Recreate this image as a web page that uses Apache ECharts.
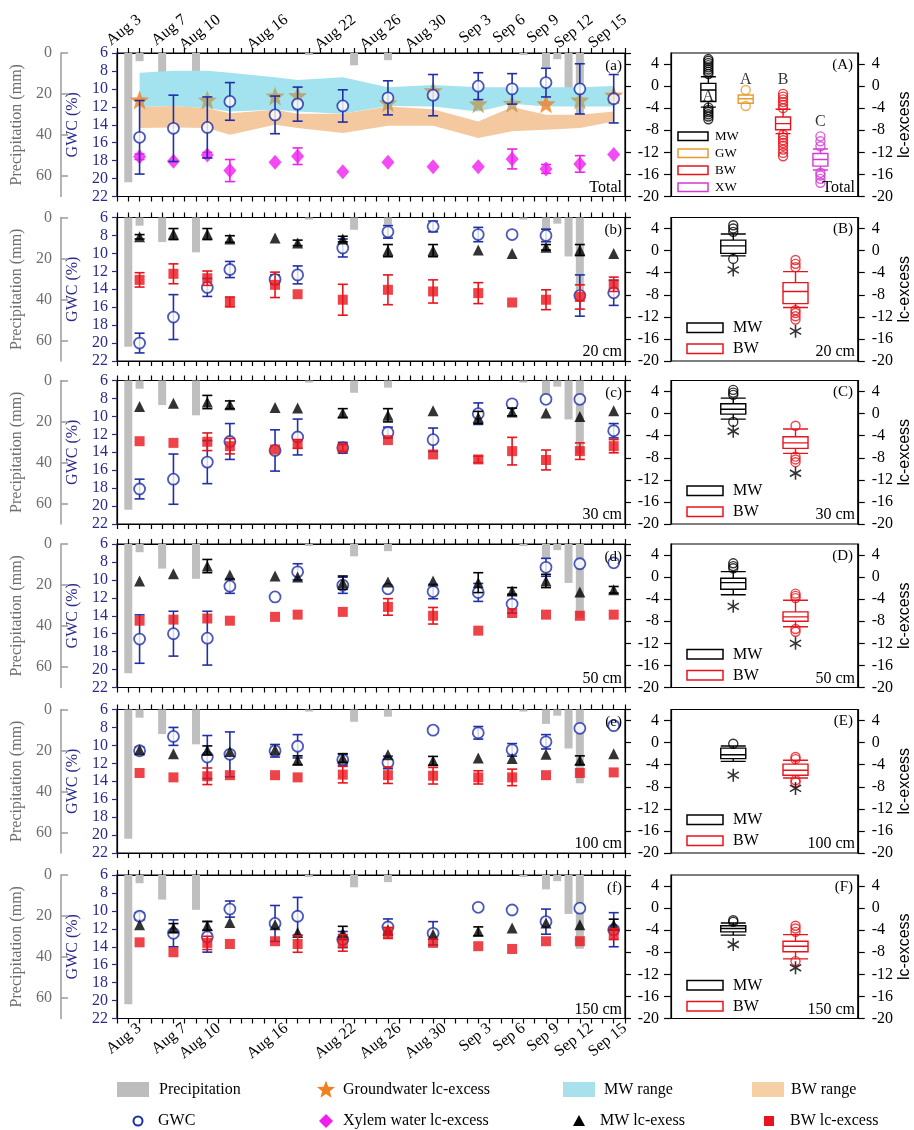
<!DOCTYPE html>
<html>
<head>
<meta charset="utf-8">
<script src="https://cdn.jsdelivr.net/npm/echarts@6/dist/echarts.min.js"></script>
<style>html,body{margin:0;padding:0;background:#fff}#chart{width:914px;height:1130px}</style>
</head>
<body>
<div id="chart"></div>
<script>
// sampling days (Aug 1 = day 1) and axis labels
var DAYS = [3, 6, 9, 11, 15, 17, 21, 25, 29, 33, 36, 39, 42, 45];
var DATE_TICKS = [3, 7, 10, 16, 22, 26, 30, 34, 37, 40, 43, 46];
var DATE_LABELS = ['Aug 3', 'Aug 7', 'Aug 10', 'Aug 16', 'Aug 22', 'Aug 26', 'Aug 30', 'Sep 3', 'Sep 6', 'Sep 9', 'Sep 12', 'Sep 15'];
var RAIN_DAYS = [2, 3, 5, 8, 18, 22, 25, 37, 39, 40, 41, 42];
var RAIN_MM = [63, 4, 12, 17, 1, 6, 3.5, 1, 7, 3, 19, 36];

// Total panel
var GWC_TOTAL = [15.4, 14.4, 14.3, 11.4, 12.9, 11.7, 11.9, 11.0, 10.7, 9.7, 10.0, 9.3, 10.0, 11.1];
var GWC_TOTAL_ERR = [4.1, 3.7, 3.4, 2.1, 2.1, 1.9, 1.8, 1.9, 2.3, 1.5, 1.7, 1.6, 2.8, 2.7];
var GW_LC = [-2.5, null, -2.5, null, -1.8, -1.7, null, -3.0, -0.8, -3.2, -3.1, -3.2, -2.5, -1.6];
var XW_LC = [-12.8, -13.6, -12.5, -15.3, -13.8, -12.7, -15.5, -13.8, -14.6, -14.6, -13.2, -15.0, -14.1, -12.4];
var XW_LC_ERR = [0.5, 0, 0.5, 2.0, 0, 1.5, 0, 0, 0, 0, 1.8, 0.8, 1.5, 0];
var MW_RANGE_HI = [2.4, 2.8, 2.8, 2.4, 1.6, 1.1, 1.6, -0.2, 0.2, -0.2, -0.2, -0.2, -0.2, 0.0];
var MW_RANGE_LO = [-3.8, -3.6, -4.0, -4.6, -4.3, -4.6, -5.0, -3.6, -3.7, -4.6, -3.2, -3.7, -3.7, -3.7];
var BW_RANGE_HI = [-3.8, -3.6, -4.0, -4.9, -4.3, -5.0, -5.0, -3.7, -4.2, -6.4, -3.8, -5.2, -5.2, -4.6];
var BW_RANGE_LO = [-7.6, -7.5, -7.6, -8.8, -7.0, -7.6, -8.5, -7.2, -7.2, -9.4, -8.2, -7.9, -7.6, -6.4];

// 20 cm
var GWC_20 = [20.0, 17.1, 13.8, 11.8, 12.9, 12.4, 9.4, 7.6, 7.0, 7.9, 7.9, 8.0, 14.7, 14.4];
var GWC_20_ERR = [1.1, 2.5, 1.0, 0.9, 0.5, 1.0, 1.0, 0.7, 0.6, 0.8, 0, 0.7, 2.3, 1.4];
var MW_20 = [2.5, 3.0, 3.0, 2.1, 2.3, 1.4, 2.1, 0.0, 0.0, 0.1, -0.5, 0.6, 0.1, -0.5];
var MW_20_ERR = [0.4, 1.0, 1.0, 0.6, 0, 0.5, 0.5, 1.1, 1.1, 0, 0, 0.5, 1.0, 0];
var BW_20 = [-5.3, -4.2, -5.0, -9.3, -6.2, -7.9, -8.9, -7.1, -7.4, -7.7, -9.4, -8.9, -8.4, -6.1];
var BW_20_ERR = [1.3, 1.8, 1.3, 0.9, 2.3, 0, 2.8, 2.7, 2.1, 1.9, 0, 1.8, 2.2, 1.3];

// 30 cm
var GWC_30 = [18.1, 17.0, 15.1, 12.8, 13.8, 12.3, 13.5, 11.8, 12.6, 9.7, 8.6, 8.1, 8.1, 11.6];
var GWC_30_ERR = [1.1, 2.8, 2.4, 2.0, 2.3, 2.0, 0.6, 0.6, 1.3, 1.2, 0, 0, 0, 0.8];
var MW_30 = [1.3, 1.9, 2.1, 1.6, 1.1, 1.0, 0.1, -0.3, 0.5, -0.7, 0.3, 0.1, -0.5, 0.5];
var MW_30_ERR = [0, 0, 1.2, 0.7, 0, 0, 0.8, 1.2, 0, 1.1, 0.7, 0, 0, 0];
var BW_30 = [-5.0, -5.3, -5.1, -5.9, -6.5, -5.5, -6.2, -4.8, -7.4, -8.3, -6.8, -8.4, -6.8, -5.9];
var BW_30_ERR = [0, 0, 1.6, 1.4, 0, 0.8, 0.6, 0, 0, 0.6, 2.5, 1.8, 1.5, 1.2];

// 50 cm
var GWC_50 = [16.6, 16.0, 16.5, 10.7, 11.9, 9.1, 10.6, 11.0, 11.3, 11.4, 12.7, 8.6, 8.2, 8.1];
var GWC_50_ERR = [2.7, 2.5, 3.0, 0.8, 0, 0.9, 0.9, 0, 0.8, 1.0, 1.0, 1.0, 0, 0];
var MW_50 = [-0.7, 0.6, 2.0, 0.4, 0.2, 0.0, -1.0, -0.9, -0.7, -1.0, -2.5, -0.7, -2.7, -2.3];
var MW_50_ERR = [0, 0, 1.2, 0, 0, 0, 1.2, 0, 0, 1.8, 0.6, 1.2, 0, 0.6];
var BW_50 = [-7.9, -7.7, -7.5, -7.9, -7.2, -6.8, -6.3, -5.4, -7.0, -9.7, -6.5, -6.8, -7.0, -6.8];
var BW_50_ERR = [0, 0, 0, 0, 0, 0, 0, 1.5, 1.5, 0, 0, 0, 0, 0];

// 100 cm
var GWC_100 = [10.6, 9.0, 11.3, 11.0, 10.6, 10.1, 11.6, 11.9, 8.3, 8.6, 10.5, 9.6, 8.1, 7.8];
var GWC_100_ERR = [0.4, 1.0, 2.4, 2.5, 0.7, 1.3, 0.6, 0.7, 0, 0.7, 0.7, 0.8, 0, 0];
var MW_100 = [-1.3, -2.0, -1.4, -1.6, -1.3, -3.2, -2.8, -2.2, -3.3, -2.8, -2.9, -2.1, -3.2, -2.0];
var MW_100_ERR = [0, 0, 0.8, 0, 0, 0.8, 0.8, 0, 0.8, 0, 0, 0, 0.8, 0];
var BW_100 = [-5.5, -6.3, -6.1, -5.9, -5.9, -6.3, -5.8, -5.9, -6.0, -6.3, -6.3, -5.9, -5.5, -5.4];
var BW_100_ERR = [0, 0, 1.5, 0, 0, 0, 1.5, 1.5, 1.5, 1.2, 1.5, 0, 0, 0];

// 150 cm
var GWC_150 = [10.6, 12.5, 12.9, 9.8, 11.4, 10.6, 13.2, 11.8, 12.5, 9.6, 9.9, 11.2, 9.7, 12.1];
var GWC_150_ERR = [0.4, 1.5, 1.7, 0.9, 2.0, 2.1, 0.9, 0.9, 1.3, 0, 0, 1.4, 0, 1.9];
var MW_150 = [-3.0, -3.6, -3.2, -2.6, -3.0, -4.4, -4.5, -3.9, -4.8, -4.2, -3.6, -2.7, -3.0, -3.0];
var MW_150_ERR = [0, 0.8, 0.8, 0, 0, 0, 1.2, 0, 0, 0.8, 0, 0, 0, 1.0];
var BW_150 = [-6.2, -8.0, -6.3, -6.5, -6.0, -6.5, -6.3, -4.5, -6.3, -6.9, -7.4, -6.0, -6.0, -4.7];
var BW_150_ERR = [0, 0, 1.2, 0, 0, 1.5, 1.5, 1.0, 0, 0, 0, 0, 0, 1.0];

// box plots: [min, Q1, median, Q3, max], outliers, extremes
var BOX_MW_TOTAL = [-3.8, -2.8, -0.7, 0.5, 1.7];
var BOX_GW_TOTAL = [-3.1, -3.1, -2.3, -1.6, -1.6];
var BOX_BW_TOTAL = [-8.6, -7.9, -6.8, -5.6, -4.2];
var BOX_XW_TOTAL = [-15.2, -14.5, -13.3, -12.2, -11.4];
var OUT_MW_TOTAL = [2.2, 2.6, 3.0, 3.4, 3.8, 4.2, 4.6, 4.9, -3.9, -4.3, -4.7, -5.1, -5.5, -6.0];
var OUT_GW_TOTAL = [-0.7, -3.6];
var OUT_BW_TOTAL = [-1.4, -1.9, -2.4, -2.9, -3.4, -4.0, -8.8, -9.3, -9.8, -10.3, -10.8, -11.5, -12.1, -12.7];
var OUT_XW_TOTAL = [-9.1, -10.0, -10.9, -15.7, -16.2, -16.8, -17.5];

var BOX_MW_20 = [-0.95, -0.5, 0.85, 1.9, 3.0];
var BOX_BW_20 = [-10.3, -9.6, -7.4, -5.8, -3.8];
var OUT_MW_20 = [3.4, 4.0, 4.6, -1.5];
var OUT_BW_20 = [-1.7, -2.4, -3.0, -10.8, -11.3, -11.9, -12.5];
var EXT_20 = [-3.5, -14.6];

var BOX_MW_30 = [-1.0, -0.1, 0.8, 1.8, 2.8];
var BOX_BW_30 = [-7.2, -6.3, -5.3, -4.2, -2.8];
var OUT_MW_30 = [3.4, 3.8, 4.3, -1.5];
var OUT_BW_30 = [-2.2, -7.8, -8.3, -8.8];
var EXT_30 = [-3.2, -10.8];

var BOX_MW_50 = [-3.2, -2.2, -1.0, -0.2, 1.0];
var BOX_BW_50 = [-9.0, -8.0, -7.2, -6.3, -4.2];
var OUT_MW_50 = [1.6, 2.0, 2.5];
var OUT_BW_50 = [-3.0, -3.4, -3.8, -9.4, -9.9];
var EXT_50 = [-5.3, -12.0];

var BOX_MW_100 = [-3.4, -2.9, -2.2, -1.0, -0.6];
var BOX_BW_100 = [-6.4, -5.9, -5.0, -3.9, -3.2];
var OUT_MW_100 = [-0.2];
var OUT_BW_100 = [-2.6, -3.0, -6.8, -7.2];
var EXT_100 = [-5.9, -8.3];

var BOX_MW_150 = [-4.9, -4.3, -3.7, -3.2, -2.7];
var BOX_BW_150 = [-9.2, -7.9, -6.9, -6.0, -4.8];
var OUT_MW_150 = [-2.2, -2.5];
var OUT_BW_150 = [-3.2, -3.7, -4.3, -9.6];
var EXT_150 = [-6.6, -10.8];

// ---------- styling ----------
var SERIF = '"Liberation Serif", "Times New Roman", serif';
var NAVY = '#2a2a8c';
var C_GWC = '#1f2fa8', C_MW = '#000000', C_BW = '#e8141c', C_XW = '#f01ef0', C_GW = '#f08020', C_GW_TAN = '#bd9c58';
var C_BOX_GW = '#e89a2c', C_BOX_XW = '#d23ad2';
var GW_TAN = [0, 0, 1, 0, 1, 1, 0, 1, 1, 1, 1, 0, 1, 0];
var TOPS = [53, 217.5, 380.5, 544, 709.5, 875];
var PH = 143.5, LX = 117, LW = 508, BX = 671, BWID = 187;
var ASTERISK = 'path://M-1.2,-10L1.2,-10L1.2,10L-1.2,10Z M8.06,-6.04L9.26,-3.96L-8.06,6.04L-9.26,3.96Z M9.26,3.96L8.06,6.04L-9.26,-3.96L-8.06,-6.04Z';

function starPts(cx, cy, ro, ri) {
  var pts = [];
  for (var k = 0; k < 10; k++) {
    var r = k % 2 ? ri : ro, a = Math.PI * (-90 + 36 * k) / 180;
    pts.push([cx + r * Math.cos(a), cy + r * Math.sin(a)]);
  }
  return pts;
}
var STAR = 'path://' + starPts(0, 0, 10, 4.2).map(function (pt, k) {
  return (k ? 'L' : 'M') + pt[0].toFixed(2) + ',' + pt[1].toFixed(2);
}).join('') + 'Z';

var PANELS = [
  {tag: '(a)', btag: '(A)', depth: 'Total', gwc: GWC_TOTAL, gwcErr: GWC_TOTAL_ERR, total: true},
  {tag: '(b)', btag: '(B)', depth: '20 cm', gwc: GWC_20, gwcErr: GWC_20_ERR, mw: MW_20, mwErr: MW_20_ERR, bw: BW_20, bwErr: BW_20_ERR,
    boxMW: BOX_MW_20, boxBW: BOX_BW_20, outMW: OUT_MW_20, outBW: OUT_BW_20, ext: EXT_20},
  {tag: '(c)', btag: '(C)', depth: '30 cm', gwc: GWC_30, gwcErr: GWC_30_ERR, mw: MW_30, mwErr: MW_30_ERR, bw: BW_30, bwErr: BW_30_ERR,
    boxMW: BOX_MW_30, boxBW: BOX_BW_30, outMW: OUT_MW_30, outBW: OUT_BW_30, ext: EXT_30},
  {tag: '(d)', btag: '(D)', depth: '50 cm', gwc: GWC_50, gwcErr: GWC_50_ERR, mw: MW_50, mwErr: MW_50_ERR, bw: BW_50, bwErr: BW_50_ERR,
    boxMW: BOX_MW_50, boxBW: BOX_BW_50, outMW: OUT_MW_50, outBW: OUT_BW_50, ext: EXT_50},
  {tag: '(e)', btag: '(E)', depth: '100 cm', gwc: GWC_100, gwcErr: GWC_100_ERR, mw: MW_100, mwErr: MW_100_ERR, bw: BW_100, bwErr: BW_100_ERR,
    boxMW: BOX_MW_100, boxBW: BOX_BW_100, outMW: OUT_MW_100, outBW: OUT_BW_100, ext: EXT_100},
  {tag: '(f)', btag: '(F)', depth: '150 cm', gwc: GWC_150, gwcErr: GWC_150_ERR, mw: MW_150, mwErr: MW_150_ERR, bw: BW_150, bwErr: BW_150_ERR,
    boxMW: BOX_MW_150, boxBW: BOX_BW_150, outMW: OUT_MW_150, outBW: OUT_BW_150, ext: EXT_150}
];

var chart = echarts.init(document.getElementById('chart'));
var option = {animation: false, backgroundColor: '#fff', textStyle: {fontFamily: SERIF},
  grid: [], xAxis: [], yAxis: [], series: [], graphic: []};

function dateLabel(v) {
  var k = DATE_TICKS.indexOf(Math.round(v));
  return k < 0 ? '' : DATE_LABELS[k];
}

function dayAxis(g, pos, show) {
  return {gridIndex: g, type: 'value', position: pos, min: 1, max: 46, interval: 1,
    axisLine: {show: true, onZero: false, lineStyle: {color: '#000', width: 1.2}},
    axisTick: {show: true, length: 5, lineStyle: {color: '#000', width: 1.2}},
    axisLabel: {show: show, rotate: pos === 'top' ? -38 : 38, formatter: dateLabel, fontFamily: SERIF, fontSize: 16, color: '#000',
      margin: pos === 'top' ? 35 : 8, align: pos === 'top' ? 'right' : undefined},
    splitLine: {show: false}};
}

function lcAxis(g, pos, labels, name) {
  var a = {gridIndex: g, type: 'value', position: pos, min: -20, max: 6, interval: 4,
    axisLine: {show: true, onZero: false, lineStyle: {color: '#000', width: 1.2}},
    axisTick: {show: true, length: labels ? 7 : 6, lineStyle: {color: '#000', width: 1.2}},
    axisLabel: {show: labels, showMaxLabel: false, fontFamily: SERIF, fontSize: 16, color: '#000', margin: pos === 'left' ? 12 : 14},
    splitLine: {show: false}};
  if (name) {
    a.name = name; a.nameLocation = 'middle'; a.nameGap = 36;
    a.nameTextStyle = {fontFamily: '"Liberation Sans", Arial, sans-serif', fontSize: 16, color: '#000'};
  }
  return a;
}

function errRender(color) {
  return function (params, api) {
    var x = api.value(0);
    var a = api.coord([x, api.value(2)]);
    var b = api.coord([x, api.value(1)]);
    var st = {stroke: color, lineWidth: 1.6};
    return {type: 'group', children: [
      {type: 'line', shape: {x1: a[0], y1: a[1], x2: b[0], y2: b[1]}, style: st},
      {type: 'line', shape: {x1: a[0] - 5, y1: a[1], x2: a[0] + 5, y2: a[1]}, style: st},
      {type: 'line', shape: {x1: b[0] - 5, y1: b[1], x2: b[0] + 5, y2: b[1]}, style: st}
    ]};
  };
}

function errSeries(xi, yi, vals, errs, color, z) {
  var data = [];
  vals.forEach(function (v, k) {
    if (v != null && errs[k]) data.push([DAYS[k], v - errs[k], v + errs[k]]);
  });
  return {type: 'custom', xAxisIndex: xi, yAxisIndex: yi, silent: true, z: z, data: data, renderItem: errRender(color)};
}

function pointSeries(xi, yi, vals, symbol, size, style, z) {
  var data = [];
  vals.forEach(function (v, k) { if (v != null) data.push([DAYS[k], v]); });
  return {type: 'scatter', xAxisIndex: xi, yAxisIndex: yi, symbol: symbol, symbolSize: size, itemStyle: style, z: z, silent: true, data: data};
}

function bandSeries(xi, yi, lo, hi, color) {
  return {type: 'custom', xAxisIndex: xi, yAxisIndex: yi, silent: true, z: 2,
    data: DAYS.map(function (d, k) { return [d, lo[k], hi[k]]; }),
    renderItem: function (params, api) {
      if (params.dataIndex !== 0) return;
      var pts = [], k;
      for (k = 0; k < DAYS.length; k++) pts.push(api.coord([DAYS[k], hi[k]]));
      for (k = DAYS.length - 1; k >= 0; k--) pts.push(api.coord([DAYS[k], lo[k]]));
      return {type: 'polygon', shape: {points: pts}, style: {fill: color}};
    }};
}

function txt(x, y, s, extra) {
  var st = {text: s, fill: '#000', font: '15px ' + SERIF, align: 'left', verticalAlign: 'middle'};
  for (var k in (extra || {})) st[k] = extra[k];
  return {type: 'text', x: x, y: y, z: 100, style: st};
}

function outlierSeries(xi, yi, pos, vals, color) {
  return {type: 'scatter', xAxisIndex: xi, yAxisIndex: yi, symbol: 'circle', symbolSize: 9, silent: true, z: 5,
    itemStyle: {color: 'rgba(255,255,255,0)', borderColor: color, borderWidth: 1.4},
    data: vals.map(function (v) { return [pos, v]; })};
}

PANELS.forEach(function (p, i) {
  var top = TOPS[i];
  var gL = option.grid.length;
  option.grid.push({left: LX, top: top, width: LW, height: PH, show: true, borderColor: '#000', borderWidth: 1.2});
  option.grid.push({left: BX, top: top, width: BWID, height: PH, show: true, borderColor: '#000', borderWidth: 1.2});
  var gB = gL + 1;
  var xi = option.xAxis.length;
  option.xAxis.push(dayAxis(gL, 'bottom', i === PANELS.length - 1));
  option.xAxis.push(dayAxis(gL, 'top', i === 0));
  option.xAxis.push({gridIndex: gB, type: 'value', min: 0, max: p.total ? 5 : 3, show: false});
  var yi = option.yAxis.length;
  option.yAxis.push({gridIndex: gL, type: 'value', position: 'left', inverse: true, min: 6, max: 22, interval: 2,
    axisLine: {show: true, onZero: false, lineStyle: {color: '#000', width: 1.2}},
    axisTick: {show: true, length: 5, lineStyle: {color: NAVY, width: 1.2}},
    axisLabel: {color: NAVY, fontFamily: SERIF, fontSize: 16, margin: 9},
    splitLine: {show: false},
    name: 'GWC (%)', nameLocation: 'middle', nameGap: 31,
    nameTextStyle: {color: NAVY, fontFamily: SERIF, fontSize: 16}});
  option.yAxis.push({gridIndex: gL, type: 'value', position: 'left', offset: 56, inverse: true, min: 0, max: 70, interval: 20,
    axisLine: {show: true, onZero: false, lineStyle: {color: '#9b9b9b', width: 1.5}},
    axisTick: {show: true, inside: true, length: 7, lineStyle: {color: '#9b9b9b', width: 1.5}},
    axisLabel: {color: '#6e6e6e', fontFamily: SERIF, fontSize: 16, margin: 9, showMaxLabel: false},
    splitLine: {show: false},
    name: 'Precipitation (mm)', nameLocation: 'middle', nameGap: 30,
    nameTextStyle: {color: '#6e6e6e', fontFamily: SERIF, fontSize: 16}});
  option.yAxis.push(lcAxis(gL, 'right', false));
  option.yAxis.push(lcAxis(gB, 'left', true));
  option.yAxis.push(lcAxis(gB, 'right', true, 'lc-excess'));

  var yG = yi, yP = yi + 1, yL = yi + 2, yB = yi + 3;
  var xB = xi + 2;

  // precipitation
  option.series.push({type: 'bar', xAxisIndex: xi, yAxisIndex: yP, barWidth: 8, silent: true, z: 1,
    itemStyle: {color: '#bfbfbf'},
    data: RAIN_DAYS.map(function (d, k) { return [d, RAIN_MM[k]]; })});

  if (p.total) {
    var starData = [];
    GW_LC.forEach(function (v, k) {
      if (v != null) starData.push({value: [DAYS[k], v], itemStyle: {color: GW_TAN[k] ? C_GW_TAN : C_GW}});
    });
    option.series.push({type: 'scatter', xAxisIndex: xi, yAxisIndex: yL, symbol: STAR, symbolSize: 19, z: 4, silent: true, data: starData});
    option.series.push(bandSeries(xi, yL, MW_RANGE_LO, MW_RANGE_HI, '#a3e2ef'));
    option.series.push(bandSeries(xi, yL, BW_RANGE_LO, BW_RANGE_HI, '#f4c9a0'));
    option.series.push(errSeries(xi, yL, XW_LC, XW_LC_ERR, C_XW, 4));
    option.series.push(pointSeries(xi, yL, XW_LC, 'diamond', [13, 15], {color: C_XW}, 4));
  }
  option.series.push(errSeries(xi, yG, p.gwc, p.gwcErr, C_GWC, 5));
  option.series.push(pointSeries(xi, yG, p.gwc, 'circle', 11, {color: '#fff', borderColor: C_GWC, borderWidth: 1.8}, 5));
  if (!p.total) {
    option.series.push(errSeries(xi, yL, p.mw, p.mwErr, C_MW, 6));
    option.series.push(pointSeries(xi, yL, p.mw, 'triangle', 11, {color: C_MW}, 6));
    option.series.push(errSeries(xi, yL, p.bw, p.bwErr, C_BW, 7));
    option.series.push(pointSeries(xi, yL, p.bw, 'rect', 10, {color: C_BW}, 7));
  }

  // box plots
  var boxes, outs, colors;
  if (p.total) {
    boxes = [BOX_MW_TOTAL, BOX_GW_TOTAL, BOX_BW_TOTAL, BOX_XW_TOTAL];
    outs = [OUT_MW_TOTAL, OUT_GW_TOTAL, OUT_BW_TOTAL, OUT_XW_TOTAL];
    colors = [C_MW, C_BOX_GW, C_BW, C_BOX_XW];
  } else {
    boxes = [p.boxMW, p.boxBW];
    outs = [p.outMW, p.outBW];
    colors = [C_MW, C_BW];
  }
  option.series.push({type: 'boxplot', xAxisIndex: xB, yAxisIndex: yB, silent: true, z: 3,
    boxWidth: p.total ? [15, 15] : [25, 25],
    data: boxes.map(function (b, k) {
      return {value: [k + 1].concat(b), itemStyle: {color: '#fff', borderColor: colors[k], borderWidth: 1.4}};
    })});
  outs.forEach(function (o, k) { option.series.push(outlierSeries(xB, yB, k + 1, o, colors[k])); });
  if (p.ext) {
    option.series.push({type: 'scatter', xAxisIndex: xB, yAxisIndex: yB, symbol: ASTERISK, symbolSize: [12, 13], silent: true, z: 5,
      itemStyle: {color: '#000'}, data: p.ext.map(function (v, k) { return [k + 1, v]; })});
  }
  if (p.total) {
    option.series.push({type: 'scatter', xAxisIndex: xB, yAxisIndex: yB, symbolSize: 0, silent: true, z: 6,
      label: {show: true, position: 'inside', formatter: '{b}', fontFamily: SERIF, fontSize: 16, color: '#000'},
      data: [{name: 'A', value: [1, -1.9]}, {name: 'A', value: [2, 1.1]}, {name: 'B', value: [3, 1.1]}, {name: 'C', value: [4, -6.5]}]});
  }

  // panel texts
  option.graphic.push(txt(622, top + 13, p.tag, {align: 'right'}));
  option.graphic.push(txt(622, top + PH - 9, p.depth, {align: 'right', font: '16px ' + SERIF}));
  option.graphic.push(txt(853, top + 12, p.btag, {align: 'right'}));
  option.graphic.push(txt(855, top + PH - 9, p.depth, {align: 'right', font: '16px ' + SERIF}));

  // box legends
  if (p.total) {
    ['MW', 'GW', 'BW', 'XW'].forEach(function (n, k) {
      var yy = top + 79 + k * 17;
      option.graphic.push({type: 'rect', z: 100, shape: {x: 678, y: yy, width: 30, height: 8.5}, style: {fill: '#fff', stroke: colors[k], lineWidth: 1.5}});
      option.graphic.push(txt(715, yy + 4.5, n, {font: '13px ' + SERIF}));
    });
  } else {
    ['MW', 'BW'].forEach(function (n, k) {
      var yy = top + 105.5 + k * 21;
      option.graphic.push({type: 'rect', z: 100, shape: {x: 687, y: yy, width: 36, height: 9.5}, style: {fill: '#fff', stroke: colors[k], lineWidth: 1.5}});
      option.graphic.push(txt(733, yy + 5, n, {font: '16px ' + SERIF}));
    });
  }
});

// bottom legend
var L1 = 1090, L2 = 1121, LF = '16px ' + SERIF;
option.graphic.push({type: 'rect', shape: {x: 117, y: L1 - 8, width: 32, height: 15}, style: {fill: '#bdbdbd'}});
option.graphic.push(txt(159, L1, 'Precipitation', {font: LF}));
option.graphic.push({type: 'polygon', shape: {points: starPts(326, L1, 9.5, 4)}, style: {fill: C_GW}});
option.graphic.push(txt(343, L1, 'Groundwater lc-excess', {font: LF}));
option.graphic.push({type: 'rect', shape: {x: 563, y: L1 - 8, width: 32, height: 15}, style: {fill: '#a8e0ec'}});
option.graphic.push(txt(604, L1, 'MW range', {font: LF}));
option.graphic.push({type: 'rect', shape: {x: 752, y: L1 - 8, width: 32, height: 15}, style: {fill: '#f4d0a4'}});
option.graphic.push(txt(791, L1, 'BW range', {font: LF}));
option.graphic.push({type: 'circle', shape: {cx: 138, cy: L2, r: 4.5}, style: {fill: '#fff', stroke: C_GWC, lineWidth: 2}});
option.graphic.push(txt(158, L2, 'GWC', {font: LF}));
option.graphic.push({type: 'polygon', shape: {points: [[326, L2 - 7], [333, L2], [326, L2 + 7], [319, L2]]}, style: {fill: C_XW}});
option.graphic.push(txt(343, L2, 'Xylem water lc-excess', {font: LF}));
option.graphic.push({type: 'polygon', shape: {points: [[579, L2 - 6], [585, L2 + 5], [573, L2 + 5]]}, style: {fill: '#000'}});
option.graphic.push(txt(600, L2, 'MW lc-exess', {font: LF}));
option.graphic.push({type: 'rect', shape: {x: 764, y: L2 - 5, width: 10, height: 10}, style: {fill: C_BW}});
option.graphic.push(txt(790, L2, 'BW lc-excess', {font: LF}));

chart.setOption(option);
</script>
</body>
</html>
